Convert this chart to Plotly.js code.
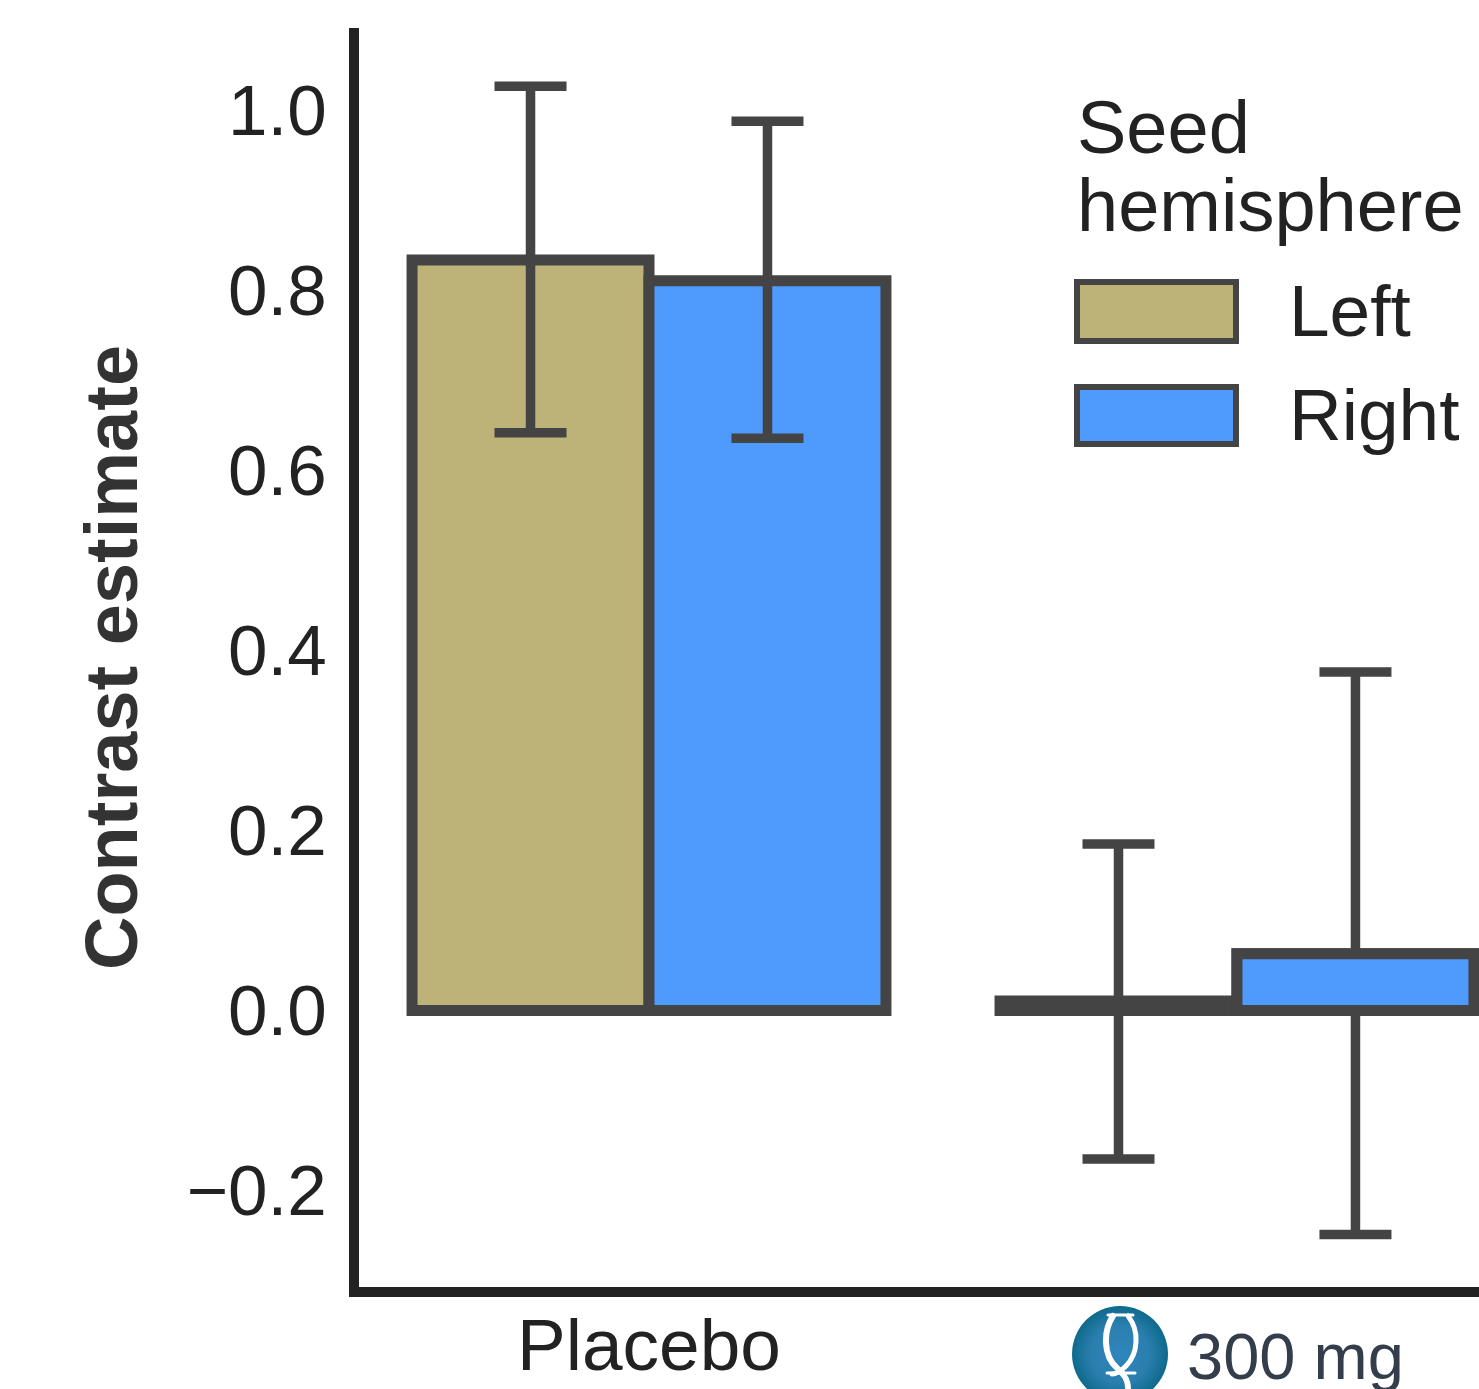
<!DOCTYPE html>
<html>
<head>
<meta charset="utf-8">
<script src="https://cdn.plot.ly/plotly-3.0.1.min.js"></script>
<style>html,body{margin:0;padding:0;background:#fff;overflow:hidden}#chart{width:1479px;height:1389px}</style>
</head>
<body>
<div id="chart"></div>
<script>
const groups = [0, 1];
const leftValues = [0.834, 0.0105];
const rightValues = [0.811, 0.063];
const leftUpper = [1.027, 0.185];
const leftLower = [0.642, -0.165];
const rightUpper = [0.988, 0.376];
const rightLower = [0.636, -0.249];
const tickValues = [-0.2, 0, 0.2, 0.4, 0.6, 0.8, 1.0];
const legendTitle = ['Seed', 'hemisphere'];
const seriesNames = ['Left', 'Right'];
const placeboLabel = 'Placebo';
const doseLabel = '300 mg';

const W = 1479, H = 1389;
const L = 359, R = 1479, T = 28, B = 1287;
const px = x => (x - L) / (R - L);
const py = y => (B - y) / (B - T);
const TAN = '#BDB277', BLUE = '#4F9BFD', EDGE = '#444444', TEXT = '#222222';
const FONT = '"Liberation Sans", Arial, sans-serif';
const BAR_W = 0.403;

function bar(name, values, upper, lower, color, offset) {
  return {
    type: 'bar', name: name, x: groups, y: values, width: BAR_W, offset: offset,
    marker: {color: color, line: {color: EDGE, width: 11}},
    error_y: {
      type: 'data', symmetric: false,
      array: upper.map((u, i) => u - values[i]),
      arrayminus: lower.map((l, i) => values[i] - l),
      color: EDGE, thickness: 9.5, width: 36
    },
    hoverinfo: 'skip'
  };
}

function text(str, x, y, size, color, anchor) {
  return {text: str, xref: 'paper', yref: 'paper', x: px(x), y: py(y),
    xanchor: anchor || 'left', yanchor: 'middle', showarrow: false, borderpad: 0,
    font: {family: FONT, size: size, color: color || TEXT}};
}

function swatch(x0, y0, x1, y1, color) {
  return {type: 'rect', xref: 'paper', yref: 'paper', x0: px(x0), x1: px(x1), y0: py(y0), y1: py(y1),
    fillcolor: color, line: {color: EDGE, width: 6}, layer: 'above'};
}

const logoSvg = '<svg xmlns="http://www.w3.org/2000/svg" viewBox="0 0 96 96">' +
  '<defs><radialGradient id="g"><stop offset="0" stop-color="#2F86BC"/><stop offset="0.6" stop-color="#2A7FAF"/><stop offset="1" stop-color="#0E6A8C"/></radialGradient></defs>' +
  '<circle cx="48" cy="48" r="48" fill="url(#g)"/>' +
  '<g fill="none" stroke="#fff" stroke-linecap="round">' +
  '<path d="M41 10 C31 25 31 50 45 62 C55 70 60 82 52 96" stroke-width="6"/>' +
  '<path d="M56 10 C68 25 66 48 54 60 C48 66 44 68 40 68" stroke-width="5"/>' +
  '<path d="M36 9 H61" stroke-width="3"/><path d="M35 67 H63" stroke-width="3"/></g></svg>';

const data = [
  bar(seriesNames[0], leftValues, leftUpper, leftLower, TAN, -BAR_W),
  bar(seriesNames[1], rightValues, rightUpper, rightLower, BLUE, 0),
  // In the reference the 300 mg right-hand bar sits in front of its error bar.
  {type: 'bar', name: seriesNames[1], x: [groups[1]], y: [rightValues[1]], width: BAR_W, offset: 0,
   marker: {color: BLUE, line: {color: EDGE, width: 11}}, hoverinfo: 'skip'}
];

const layout = {
  width: W, height: H,
  margin: {l: L, r: W - R, t: T, b: H - B, pad: 0},
  paper_bgcolor: '#fff', plot_bgcolor: '#fff',
  barmode: 'overlay',
  showlegend: false,
  font: {family: FONT, color: TEXT},
  xaxis: {
    range: [-0.4932, 1.4116], tickmode: 'array', tickvals: [0], ticktext: [placeboLabel],
    showgrid: false, zeroline: false, showline: true, linecolor: '#222222', linewidth: 10,
    ticks: '', ticklabelstandoff: -15, tickfont: {family: FONT, size: 73, color: TEXT}
  },
  yaxis: {
    range: [-0.3072, 1.0917], tickmode: 'array', tickvals: tickValues, tickformat: '.1f',
    showgrid: false, zeroline: false, showline: true, linecolor: '#222222', linewidth: 10,
    ticks: '', ticklabelstandoff: 8, tickfont: {family: FONT, size: 71, color: TEXT},
    title: {text: '<b>Contrast estimate</b>', standoff: 29, font: {family: FONT, size: 74, color: '#333333'}}
  },
  shapes: [
    swatch(1077, 282, 1236, 341, TAN),
    swatch(1077, 387, 1236, 444, BLUE)
  ],
  annotations: [
    text(legendTitle[0], 1076, 127, 74),
    text(legendTitle[1], 1076, 206, 74),
    text(seriesNames[0], 1288, 310, 73),
    text(seriesNames[1], 1288, 414, 73),
    text(doseLabel, 1186, 1356, 65, '#333D4B')
  ],
  images: [{
    source: 'data:image/svg+xml;base64,' + btoa(logoSvg),
    xref: 'paper', yref: 'paper', x: px(1072), y: py(1306),
    sizex: 96 / (R - L), sizey: 96 / (B - T),
    xanchor: 'left', yanchor: 'top', sizing: 'stretch', layer: 'above'
  }]
};

Plotly.newPlot('chart', data, layout, {displayModeBar: false, staticPlot: true});
</script>
</body>
</html>
